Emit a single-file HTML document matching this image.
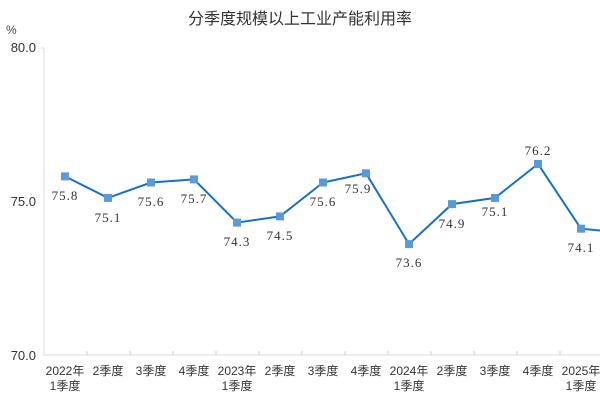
<!DOCTYPE html>
<html><head><meta charset="utf-8"><style>
html,body{margin:0;padding:0;background:#fff;width:600px;height:400px;overflow:hidden}
</style></head><body>
<svg width="600" height="400" xmlns="http://www.w3.org/2000/svg">
<text x="300" y="24" text-anchor="middle" font-family="Liberation Sans,'Noto Sans CJK SC',sans-serif" font-size="16" fill="#333">分季度规模以上工业产能利用率</text>
<text x="6" y="34" font-family="Liberation Sans,sans-serif" font-size="12" fill="#444">%</text>
<g font-family="Liberation Sans,sans-serif" font-size="13" fill="#333" text-anchor="end">
<text x="36" y="52">80.0</text><text x="36" y="206">75.0</text><text x="36" y="360">70.0</text></g>
<line x1="44" y1="48" x2="44" y2="355" stroke="#ddd" stroke-width="1"/>
<line x1="41" y1="48" x2="44" y2="48" stroke="#ddd"/>
<line x1="44" y1="355" x2="600" y2="355" stroke="#ddd" stroke-width="1"/>
<g stroke="#ccc">
<line x1="87" y1="351" x2="87" y2="355"/><line x1="130" y1="351" x2="130" y2="355"/><line x1="173" y1="351" x2="173" y2="355"/><line x1="216" y1="351" x2="216" y2="355"/><line x1="259" y1="351" x2="259" y2="355"/><line x1="302" y1="351" x2="302" y2="355"/><line x1="345" y1="351" x2="345" y2="355"/><line x1="388" y1="351" x2="388" y2="355"/><line x1="431" y1="351" x2="431" y2="355"/><line x1="474" y1="351" x2="474" y2="355"/><line x1="517" y1="351" x2="517" y2="355"/><line x1="560" y1="351" x2="560" y2="355"/></g>
<g font-family="Liberation Sans,'Noto Sans CJK SC',sans-serif" font-size="12" fill="#333" text-anchor="middle">
<text x="65" y="375">2022年</text><text x="65" y="390">1季度</text>
<text x="108" y="375">2季度</text><text x="151" y="375">3季度</text><text x="194" y="375">4季度</text>
<text x="237" y="375">2023年</text><text x="237" y="390">1季度</text>
<text x="280" y="375">2季度</text><text x="323" y="375">3季度</text><text x="366" y="375">4季度</text>
<text x="409" y="375">2024年</text><text x="409" y="390">1季度</text>
<text x="452" y="375">2季度</text><text x="495" y="375">3季度</text><text x="538" y="375">4季度</text>
<text x="581" y="375">2025年</text><text x="581" y="390">1季度</text></g>
<polyline fill="none" stroke="#1a6fc4" stroke-width="2" points="65,176.4 108,197.9 151,182.5 194,179.4 237,222.6 280,216.4 323,182.5 366,173.3 409,244.1 452,204.1 495,197.9 538,164 581,228.7 600,230.5"/>
<g fill="#5b9bd5">
<rect x="61" y="172.4" width="8" height="8"/><rect x="104" y="193.9" width="8" height="8"/><rect x="147" y="178.5" width="8" height="8"/><rect x="190" y="175.4" width="8" height="8"/><rect x="233" y="218.6" width="8" height="8"/><rect x="276" y="212.4" width="8" height="8"/><rect x="319" y="178.5" width="8" height="8"/><rect x="362" y="169.3" width="8" height="8"/><rect x="405" y="240.1" width="8" height="8"/><rect x="448" y="200.1" width="8" height="8"/><rect x="491" y="193.9" width="8" height="8"/><rect x="534" y="160" width="8" height="8"/><rect x="577" y="224.7" width="8" height="8"/></g>
<g font-family="Liberation Serif,serif" font-size="13" fill="#333" text-anchor="middle" letter-spacing="1">
<text x="65" y="200">75.8</text><text x="108" y="222">75.1</text><text x="151" y="206">75.6</text><text x="194" y="203">75.7</text><text x="237" y="246">74.3</text><text x="280" y="240">74.5</text><text x="323" y="206">75.6</text><text x="358" y="193">75.9</text><text x="409" y="267">73.6</text><text x="452" y="228">74.9</text><text x="495" y="216">75.1</text><text x="538" y="155">76.2</text><text x="581" y="252">74.1</text></g>
</svg>
</body></html>
